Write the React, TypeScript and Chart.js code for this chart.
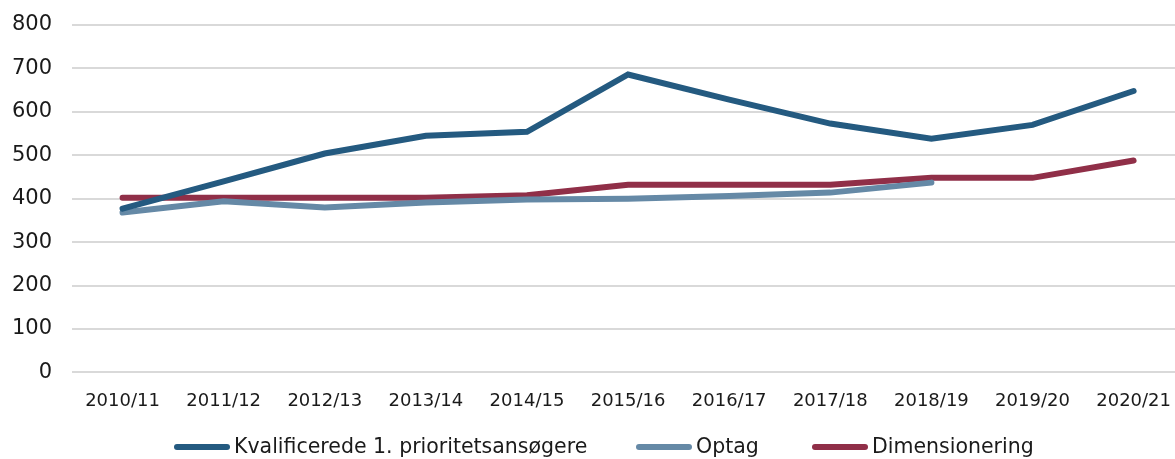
import React, { useEffect, useRef } from "react";
import { Chart, registerables } from "chart.js";

Chart.register(...registerables);

const categories = ["2010/11", "2011/12", "2012/13", "2013/14", "2014/15", "2015/16", "2016/17", "2017/18", "2018/19", "2019/20", "2020/21"];
const kvalificerede = [377, 440, 504, 545, 554, 686, 628, 573, 538, 570, 648];
const optag = [368, 394, 380, 391, 398, 400, 406, 414, 437, null, null];
const dimensionering = [402, 402, 402, 402, 408, 432, 432, 432, 448, 448, 488];
const yTicks = [0, 100, 200, 300, 400, 500, 600, 700, 800];

const FONT = "'DejaVu Sans', sans-serif";
const TEXT = "#1a1a1a";

// custom bottom legend drawn on the chart canvas
const legendPlugin = {
  id: "bottomLegend",
  afterDraw(chart: any, _args: any, opts: any) {
    const ctx = chart.ctx;
    ctx.save();
    ctx.font = `${opts.fontSize}px ${FONT}`;
    ctx.textBaseline = "middle";
    chart.data.datasets.forEach((ds: any, i: number) => {
      const x0 = opts.starts[i];
      const y = opts.y;
      ctx.beginPath();
      ctx.strokeStyle = ds.borderColor;
      ctx.lineWidth = opts.thickness;
      ctx.lineCap = "round";
      ctx.moveTo(x0 + opts.thickness / 2, y);
      ctx.lineTo(x0 + opts.sample - opts.thickness / 2, y);
      ctx.stroke();
      ctx.fillStyle = TEXT;
      ctx.fillText(ds.label, x0 + opts.sample + opts.gap, y + 1);
    });
    ctx.restore();
  },
};

export default function App() {
  const ref = useRef<HTMLCanvasElement | null>(null);

  useEffect(() => {
    document.body.style.margin = "0";
    document.body.style.overflow = "hidden";
    const ctx = ref.current;
    if (!ctx) return;
    const chart = new Chart(ctx, {
      type: "line",
      data: {
        labels: categories,
        datasets: [
          { label: "Kvalificerede 1. prioritetsansøgere", data: kvalificerede, borderColor: "#245a80", backgroundColor: "#245a80" },
          { label: "Optag", data: optag, borderColor: "#6589a6", backgroundColor: "#6589a6" },
          { label: "Dimensionering", data: dimensionering, borderColor: "#902f48", backgroundColor: "#902f48" },
        ].map((d) => ({
          ...d,
          borderWidth: 6,
          pointRadius: 0,
          pointHoverRadius: 0,
          tension: 0,
          borderCapStyle: "round" as const,
          borderJoinStyle: "miter" as const,
          spanGaps: false,
        })),
      },
      plugins: [legendPlugin],
      options: {
        animation: false,
        responsive: true,
        maintainAspectRatio: false,
        layout: { padding: { top: 25, left: 0, right: 0, bottom: 29 } },
        plugins: {
          tooltip: { enabled: false },
          legend: { display: false },
          bottomLegend: { starts: [174, 636, 812], y: 447, sample: 56, thickness: 6, gap: 4, fontSize: 20.5 },
        } as any,
        scales: {
          x: {
            offset: true,
            grid: { display: false, drawTicks: false },
            border: { display: false },
            ticks: { font: { family: FONT, size: 18 }, color: TEXT, padding: 18, maxRotation: 0, autoSkip: false },
          },
          y: {
            min: 0,
            max: 800,
            afterFit: (scale: any) => { scale.width = 72; scale.paddingTop = 0; scale.paddingBottom = 0; },
            afterBuildTicks: (scale: any) => { scale.ticks = yTicks.map((v) => ({ value: v })); },
            grid: { color: "#d9d9d9", lineWidth: 2, drawTicks: false },
            border: { display: false },
            ticks: { font: { family: FONT, size: 21 }, color: TEXT, padding: 20 },
          },
        },
      },
    });
    return () => chart.destroy();
  }, []);

  return (
    <div style={{ width: 1189, height: 459, position: "relative" }}>
      <canvas ref={ref} />
    </div>
  );
}
